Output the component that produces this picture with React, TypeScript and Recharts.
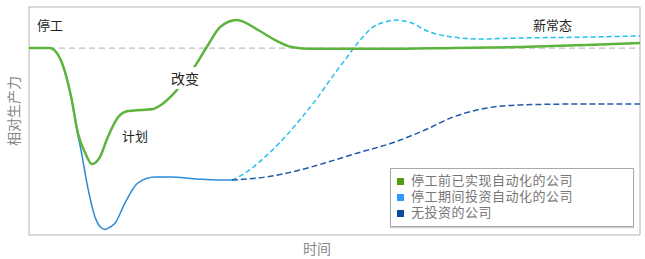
import React from "react";
import {
  LineChart,
  Line,
  XAxis,
  YAxis,
  ReferenceLine,
  ReferenceArea,
} from "recharts";

// time runs 0..100, productivity is 100 before the shutdown
const GREEN_T = [0, 3.4, 5.2, 6.9, 8.0, 9.2, 10.3, 11.6, 12.9, 14.6, 16.2, 18.3, 20.3, 21.6, 23.9, 27.3, 29.1, 31.3, 34.0, 37.5, 40.3, 43.0, 46.3, 58.6, 69.4, 80.4, 91.3, 100];
const GREEN_V = [100, 100, 93.6, 73.8, 54.6, 43.9, 38.0, 41.7, 52.4, 63.1, 66.3, 66.9, 67.4, 69.6, 76.5, 91.0, 100.6, 111.3, 115.0, 109.7, 104.3, 100.6, 99.6, 99.6, 100.1, 100.6, 101.7, 102.7];

const BLUE_T = [0, 3.4, 5.2, 6.9, 8.0, 8.5, 9.7, 10.8, 11.6, 12.4, 13.4, 14.1, 15.7, 17.8, 20.6, 23.2, 27.2, 33.2];
const BLUE_V = [100, 100, 93.6, 73.8, 53.5, 45.5, 24.1, 9.6, 4.5, 3.0, 4.5, 6.4, 17.1, 27.8, 31.0, 31.0, 30.0, 29.4];

const INVEST_T = [33.2, 35.4, 38.6, 41.9, 44.7, 47.3, 49.6, 51.7, 53.8, 56.1, 58.3, 59.9, 62.7, 64.8, 69.4, 73.8, 80.4, 91.3, 100];
const INVEST_V = [29.4, 33.2, 41.7, 52.4, 63.1, 73.8, 84.5, 93.6, 102.7, 110.8, 114.0, 115.0, 113.4, 109.7, 105.9, 104.9, 105.4, 105.9, 106.5];

const NONE_T = [33.2, 37.5, 43.0, 48.4, 53.8, 59.4, 64.8, 69.4, 75.0, 80.4, 91.3, 100];
const NONE_V = [29.4, 30.5, 33.7, 38.5, 43.9, 49.2, 56.2, 63.1, 68.0, 69.6, 70.1, 70.1];

const LEGEND_ITEMS = [
  { name: "停工前已实现自动化的公司", color: "#4f9f14" },
  { name: "停工期间投资自动化的公司", color: "#3399ff" },
  { name: "无投资的公司", color: "#0b4a9a" },
];

const zip = (ts: number[], vs: number[]) => ts.map((t, i) => ({ t, v: vs[i] }));

const FONT = '"Noto Sans CJK SC", "Noto Sans", sans-serif';
// latin font first keeps the inline boxes short, CJK glyphs fall back
const LEGEND_FONT = '"Liberation Sans", "Noto Sans CJK SC", sans-serif';

const textStyle = (left: number, top: number, extra: React.CSSProperties = {}): React.CSSProperties => ({
  position: "absolute",
  left,
  top,
  fontFamily: FONT,
  fontSize: 13,
  lineHeight: "16px",
  color: "#222",
  whiteSpace: "nowrap",
  ...extra,
});

// legend drawn as a plain box so it doesn't eat the plot height
const LegendBox = () => (
  <div
    style={{
      position: "absolute",
      left: 390,
      top: 168,
      width: 244,
      height: 59,
      border: "1px solid #aaa",
      boxShadow: "0 1px 1px #ccc",
      background: "#fff",
      padding: "4px 6px",
      fontFamily: LEGEND_FONT,
      fontSize: 13,
      letterSpacing: 0.5,
      lineHeight: "16px",
      color: "#777",
      boxSizing: "border-box",
    }}
  >
    {LEGEND_ITEMS.map((it) => (
      <div key={it.name} style={{ display: "flex", alignItems: "center", height: 16 }}>
        <span style={{ width: 7, height: 7, background: it.color, marginRight: 7, display: "block" }} />
        <span>{it.name}</span>
      </div>
    ))}
  </div>
);

export default function App() {
  return (
    <div style={{ position: "absolute", left: 0, top: 0, width: 645, height: 259, background: "#fff" }}>
      <LineChart width={645} height={259} margin={{ top: 7, right: 5, bottom: 24, left: 29 }}>
        <XAxis type="number" dataKey="t" domain={[0, 100]} hide allowDuplicatedCategory={false} />
        <YAxis type="number" dataKey="v" domain={[0, 122]} hide />
        <ReferenceArea x1={0} x2={100} y1={0} y2={122} fill="none" stroke="#b4b4b4" strokeWidth={1} />
        <ReferenceLine y={100} stroke="#b0b0b0" strokeDasharray="6 4" strokeWidth={1} />
        <Line data={zip(BLUE_T, BLUE_V)} dataKey="v" type="monotone" stroke="#2b8ad6" strokeWidth={1.5} dot={false} isAnimationActive={false} />
        <Line data={zip(INVEST_T, INVEST_V)} dataKey="v" type="monotone" stroke="#22c1f1" strokeWidth={1.5} strokeDasharray="5 3" dot={false} isAnimationActive={false} />
        <Line data={zip(NONE_T, NONE_V)} dataKey="v" type="monotone" stroke="#1f5aab" strokeWidth={1.5} strokeDasharray="6 3" dot={false} isAnimationActive={false} />
        <Line data={zip(GREEN_T, GREEN_V)} dataKey="v" type="monotone" stroke="#5cb43c" strokeWidth={2.5} dot={false} isAnimationActive={false} />
      </LineChart>

      <LegendBox />

      {/* annotations */}
      <div style={textStyle(37, 17)}>停工</div>
      <div style={textStyle(533, 17)}>新常态</div>
      <div style={textStyle(122, 128)}>计划</div>
      <div style={textStyle(169, 67, { fontSize: 14, background: "#fff", padding: "3px 2px" })}>改变</div>

      {/* axis titles */}
      <div style={textStyle(303, 240, { fontSize: 14, color: "#888" })}>时间</div>
      <div
        style={textStyle(-22, 103, {
          fontSize: 14,
          color: "#888",
          width: 70,
          textAlign: "center",
          transform: "rotate(-90deg)",
        })}
      >
        相对生产力
      </div>
    </div>
  );
}
